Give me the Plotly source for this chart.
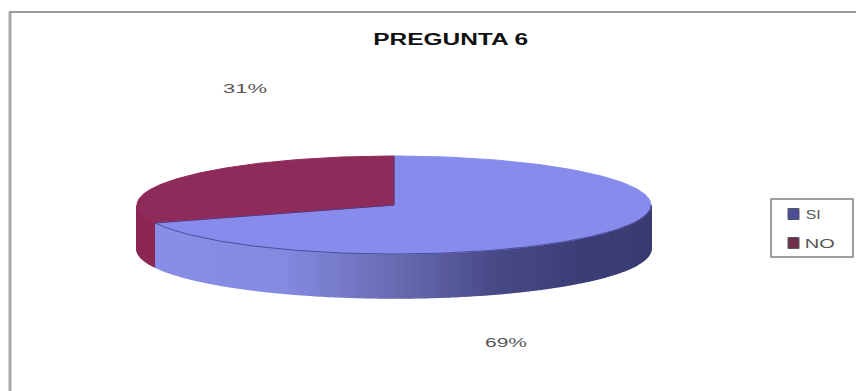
import numpy as np
import plotly.graph_objects as go

categories = ["SI", "NO"]
values = [69, 31]
value_labels = ["69%", "31%"]
top_colors = ["#878cec", "#8f2b5a"]
legend_colors = ["#4a4f96", "#70304a"]
title_text = "PREGUNTA 6"

W, H = 856, 391
cx, cy, rx, ry, depth = 394, 205, 257, 49, 44


def pt(theta, dy=0.0):
    t = np.radians(theta)
    return cx + rx * np.sin(t), cy - ry * np.cos(t) + dy


def mix(stops, f):
    xs = [s[0] for s in stops]
    return "rgb(%d,%d,%d)" % tuple(
        np.interp(f, xs, [s[1][i] for s in stops]) for i in range(3)
    )


si_shade = [(0.0, (58, 60, 112)), (0.24, (60, 62, 118)), (0.37, (72, 74, 135)),
            (0.5, (105, 108, 178)), (0.64, (133, 138, 225)), (1.0, (140, 146, 238))]
no_shade = [(0.0, (140, 40, 85)), (1.0, (140, 40, 85))]

total = sum(values)
boundaries = np.cumsum([0] + values) / total * 360

fig = go.Figure()

# Side wall, front half only, faceted for the shading
for i, shade in enumerate([si_shade, no_shade]):
    a0, a1 = max(boundaries[i], 90), min(boundaries[i + 1], 270)
    if a1 <= a0:
        continue
    edges = np.linspace(a0, a1, int((a1 - a0) / 0.75) + 2)
    for e0, e1 in zip(edges[:-1], edges[1:]):
        th = np.linspace(e0, e1, 4)
        xa, ya = pt(th)
        xb, yb = pt(th[::-1], depth)
        col = mix(shade, (th.mean() - 90) / 180)
        fig.add_trace(go.Scatter(
            x=np.r_[xa, xb], y=np.r_[ya, yb], mode="lines", fill="toself",
            fillcolor=col, line=dict(color=col, width=1.5),
            showlegend=False, hoverinfo="skip"))

# Top face slices
for i in range(len(values)):
    th = np.linspace(boundaries[i], boundaries[i + 1], 200)
    xs, ys = pt(th)
    fig.add_trace(go.Scatter(
        x=np.r_[cx, xs, cx], y=np.r_[cy, ys, cy], mode="lines", fill="toself",
        fillcolor=top_colors[i], line=dict(color=top_colors[i], width=1),
        showlegend=False, hoverinfo="skip"))

# Darker rim lines
th = np.linspace(90, boundaries[1], 160)
xs, ys = pt(th)
fig.add_trace(go.Scatter(x=xs, y=ys, mode="lines",
                         line=dict(color="#4a4e9a", width=1),
                         showlegend=False, hoverinfo="skip"))
xs, ys = pt(np.array([boundaries[1]]))
fig.add_trace(go.Scatter(x=[xs[0], cx, cx], y=[ys[0], cy, cy - ry], mode="lines",
                         line=dict(color="#5a3a80", width=1),
                         showlegend=False, hoverinfo="skip"))

# Legend entries, spaced as in the reference
legend_y = [214, 243]
legend_w = [15, 30]
fig.add_trace(go.Scatter(
    x=[793.5] * len(categories), y=legend_y, mode="markers",
    marker=dict(symbol="square", size=11, color=legend_colors,
                line=dict(color="#555566", width=1)),
    showlegend=False, hoverinfo="skip"))

annotations = [
    dict(x=450, y=39, text=f"<b>{title_text}</b>", showarrow=False,
         font=dict(family="Liberation Sans", size=16, color="#111111")),
    dict(x=506, y=342, text=value_labels[0], showarrow=False,
         font=dict(family="Liberation Sans", size=13, color="#555555")),
    dict(x=245, y=88, text=value_labels[1], showarrow=False,
         font=dict(family="Liberation Sans", size=13, color="#555555")),
]
for name, y, w in zip(categories, legend_y, legend_w):
    annotations.append(dict(x=805 + w / 2, y=y, text=name, showarrow=False,
                            font=dict(family="Liberation Sans", size=13, color="#555555")))
for a in annotations:
    a.update(xref="x", yref="y")

fig.update_layout(
    width=W, height=H, autosize=False,
    margin=dict(l=0, r=0, t=0, b=0),
    paper_bgcolor="white", plot_bgcolor="white",
    xaxis=dict(range=[0, W], visible=False, fixedrange=True),
    yaxis=dict(range=[H, 0], visible=False, fixedrange=True),
    annotations=annotations,
    showlegend=False,
    shapes=[
        dict(type="line", xref="x", yref="y", x0=9, x1=W, y0=12, y1=12,
             line=dict(color="#9a9a9a", width=2)),
        dict(type="line", xref="x", yref="y", x0=10, x1=10, y0=12, y1=H,
             line=dict(color="#a8a8a8", width=3)),
        dict(type="rect", xref="x", yref="y", x0=771, x1=853, y0=199, y1=257,
             line=dict(color="#808080", width=1.5)),
    ],
)

# The reference's text is stretched sideways: fit each string to its measured width
post = """
document.body.style.margin = '0';
var widths = {'PREGUNTA 6': 155, '69%': 42, '31%': 44, 'SI': 15, 'NO': 30};
document.querySelectorAll('.annotation-text').forEach(function (el) {
    var w = widths[el.textContent.trim()];
    if (w) {
        el.setAttribute('textLength', w);
        el.setAttribute('lengthAdjust', 'spacingAndGlyphs');
    }
});
"""

fig.write_html("out.html", config=dict(displayModeBar=False), post_script=post)
